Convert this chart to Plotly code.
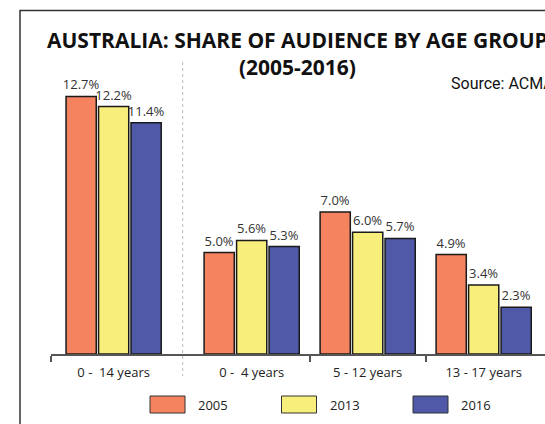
import plotly.graph_objects as go

# data
age_groups = ["0 -\u00a0 14 years", "0 -\u00a0 4 years", "5 - 12 years", "13 - 17 years"]
years = ["2005", "2013", "2016"]
share_2005 = [12.7, 5.0, 7.0, 4.9]
share_2013 = [12.2, 5.6, 6.0, 3.4]
share_2016 = [11.4, 5.3, 5.7, 2.3]
series = [share_2005, share_2013, share_2016]
colors = ["#F5835F", "#F8EE7B", "#4F59A8"]

W, H = 545, 424

# plot area in window pixels: x 51..545, y 67..354
PX0, PX1, PY0, PY1 = 51, W, 67, 354
L, T, R, B = PX0, PY0, 0, H - PY1
plot_w = W - L - R

# the 0-14 group sits a little apart from the three sub-groups
positions = [0.0] + [1.19 + i for i in range(len(age_groups) - 1)]
x_range = [-0.54, -0.54 + plot_w / 116]
y_range = [0, 14.15]


def px(x):
    return (x - PX0) / plot_w


def py(y):
    return (PY1 - y) / (PY1 - PY0)


fig = go.Figure()
for name, vals, col in zip(years, series, colors):
    fig.add_trace(go.Bar(
        x=positions, y=vals, name=name,
        marker=dict(color=col, line=dict(color="#1a1a1a", width=1.5)),
        text=[f"{v:.1f}%" for v in vals], textposition="outside",
        textfont=dict(size=13, color="#333333"), constraintext="none",
        cliponaxis=False, showlegend=False,
    ))

boundaries = [x_range[0]] + [p + 0.5 for p in positions[1:-1]]
fig.update_xaxes(
    range=x_range, tickvals=positions, ticktext=age_groups, ticks="",
    showline=True, linecolor="#555555", linewidth=1.5, showgrid=False,
    zeroline=False, ticklabelstandoff=6,
    tickfont=dict(size=13, color="#222222"),
    minor=dict(tickvals=boundaries, ticks="outside", ticklen=6,
               tickcolor="#555555", tickwidth=1.5, showgrid=False),
)
fig.update_yaxes(range=y_range, visible=False)

sep_x = (positions[0] + positions[1]) / 2
shapes = [
    # separator between the 0-14 group and its breakdown
    dict(type="line", xref="x", yref="paper", x0=sep_x, x1=sep_x,
         y0=py(62), y1=py(376), line=dict(color="#bbbbbb", width=1, dash="3px,3px")),
    # frame (runs off the right/bottom edge)
    dict(type="rect", xref="paper", yref="paper",
         x0=px(20), x1=px(W + 40), y0=py(10.5), y1=py(H + 40),
         line=dict(color="#333333", width=1.5)),
]
annotations = [
    dict(text="<b>AUSTRALIA: SHARE OF AUDIENCE BY AGE GROUP<br>(2005-2016)</b>",
         xref="paper", yref="paper", x=px(297), y=py(24), xanchor="center",
         yanchor="top", showarrow=False,
         font=dict(family="Open Sans", size=21, color="#111111")),
    dict(text="Source: ACMA", xref="paper", yref="paper", x=px(449), y=py(84),
         xanchor="left", yanchor="middle", showarrow=False,
         font=dict(family="Roboto", size=16, color="#111111")),
]

# legend drawn by hand: wide swatches as in the reference
for i, (name, col) in enumerate(zip(years, colors)):
    x0 = 150 + i * 131.5
    shapes.append(dict(type="rect", xref="paper", yref="paper",
                       x0=px(x0), x1=px(x0 + 35), y0=py(396), y1=py(413),
                       fillcolor=col, line=dict(color="#333333", width=1)))
    annotations.append(dict(text=name, xref="paper", yref="paper",
                            x=px(x0 + 46), y=py(404.5), xanchor="left",
                            yanchor="middle", showarrow=False,
                            font=dict(size=13, color="#222222")))

fig.update_layout(
    width=W, height=H, margin=dict(l=L, r=R, t=T, b=B),
    barmode="group", bargap=0.16, bargroupgap=0.07,
    plot_bgcolor="white", paper_bgcolor="white",
    font=dict(family="Open Sans"), hovermode=False,
    shapes=shapes, annotations=annotations,
)

# drop the default body margin so the figure sits flush with the window
fig.write_html("out.html", config={"displayModeBar": False},
               post_script="document.body.style.margin = '0';")
